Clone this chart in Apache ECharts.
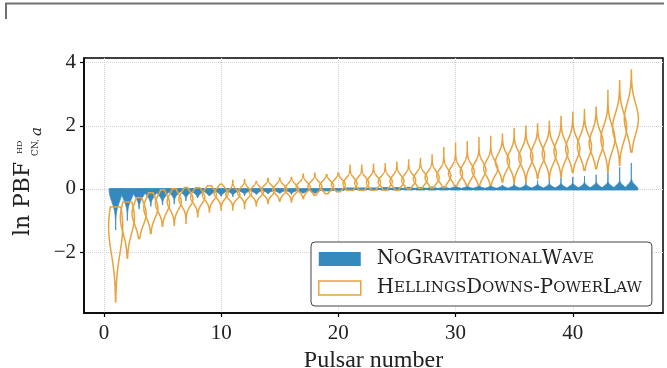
<!DOCTYPE html>
<html><head><meta charset="utf-8">
<script src="https://cdn.jsdelivr.net/npm/echarts@6/dist/echarts.min.js"></script>
<style>html,body{margin:0;padding:0;background:#fff}#c{width:667px;height:368px}</style>
</head><body><div id="c"></div>
<script>
// ---- data ----
const pulsars = [1,2,3,4,5,6,7,8,9,10,11,12,13,14,15,16,17,18,19,20,21,22,23,24,25,26,27,28,29,30,31,32,33,34,35,36,37,38,39,40,41,42,43,44,45];

// NoGravitationalWave violins: min, max, densest value, spread
const ngwLow  = [-1.30,-1.00,-0.63,-0.55,-0.51,-0.48,-0.38,-0.28,-0.20,-0.23,-0.25,-0.22,-0.17,-0.15,-0.13,-0.17,-0.13,-0.13,-0.06,-0.04,
                 -0.03,-0.03,-0.03,-0.03,-0.03,-0.03,-0.03,-0.03,-0.03,-0.03,-0.03,-0.03,-0.03,-0.03,-0.03,-0.03,-0.03,-0.03,-0.03,-0.03,-0.03,-0.03,-0.03,-0.03,-0.03];
const ngwHigh = [0.01,0.01,0.01,0.01,0.01,0.01,0.01,0.01,0.01,0.01,0.01,0.01,0.01,0.01,0.01,0.01,0.01,0.01,0.01,0.01,
                 0.03,0.03,0.03,0.04,0.04,0.05,0.05,0.06,0.07,0.08,0.08,0.10,0.11,0.12,0.17,0.22,0.27,0.31,0.35,0.38,0.41,0.45,0.52,0.69,0.82];
const ngwMode = [-0.04,-0.04,-0.04,-0.04,-0.04,-0.02,-0.02,-0.02,-0.02,-0.02,-0.02,-0.02,-0.02,-0.02,-0.02,-0.02,-0.02,-0.02,-0.02,-0.02,
                 0,0,0,0,0,0,0,0,0,0,0,0,0,0,0,0,0,0,0,0,0,0,0,0,0];
const ngwSpread = [0.35,0.28,0.20,0.17,0.15,0.13,0.11,0.10,0.09,0.08,0.07,0.06,0.06,0.05,0.05,0.05,0.05,0.05,0.04,0.04,
                 0.03,0.03,0.03,0.03,0.03,0.03,0.03,0.03,0.03,0.035,0.035,0.04,0.04,0.045,0.05,0.055,0.06,0.065,0.07,0.075,0.08,0.085,0.09,0.10,0.12];

// HellingsDowns-PowerLaw violins
const hdLow  = [-3.57,-2.19,-1.57,-1.41,-1.18,-1.15,-1.09,-0.88,-0.73,-0.67,-0.67,-0.62,-0.54,-0.46,-0.39,-0.41,-0.30,-0.20,-0.15,-0.09,
                -0.04,-0.04,-0.04,-0.04,-0.04,0.00,0.02,0.03,0.05,0.10,0.12,0.12,0.12,0.22,0.17,0.22,0.33,0.33,0.38,0.52,0.59,0.64,0.54,0.75,1.17];
const hdHigh = [-0.57,-0.41,-0.28,-0.12,-0.03,0.01,0.05,0.04,0.10,0.15,0.27,0.30,0.24,0.33,0.35,0.36,0.47,0.50,0.45,0.51,
                0.75,0.75,0.78,0.80,0.85,0.92,0.96,1.08,1.31,1.45,1.50,1.62,1.66,1.73,1.91,1.99,2.06,2.14,2.30,2.43,2.52,2.59,3.12,3.43,3.77];
const hdMode = [-1.20,-0.90,-0.78,-0.60,-0.46,-0.40,-0.32,-0.26,-0.18,-0.14,-0.18,-0.12,-0.10,-0.05,-0.02,0.00,0.06,0.08,0.10,0.14,
                0.17,0.19,0.21,0.23,0.25,0.28,0.32,0.36,0.42,0.49,0.55,0.60,0.65,0.85,0.92,1.00,1.07,1.12,1.20,1.28,1.35,1.45,1.59,1.95,2.22];
const hdSpread = [0.85,0.50,0.36,0.32,0.27,0.25,0.22,0.20,0.18,0.16,0.14,0.14,0.14,0.14,0.14,0.14,0.14,0.14,0.14,0.14,
                0.16,0.16,0.16,0.16,0.17,0.17,0.18,0.19,0.20,0.21,0.22,0.23,0.24,0.26,0.27,0.28,0.29,0.30,0.31,0.32,0.34,0.36,0.40,0.44,0.48];

const xTicks = [0,10,20,30,40];
const yTicks = [-2,0,2,4];
const seriesNames = ['NoGravitationalWave','HellingsDowns-PowerLaw'];

// ---- styling ----
const BLUE = '#348ABD', ORANGE = '#E8A33D';
const FONT = 'Liberation Serif';
const FONT2 = 'DejaVu Serif';

function makeData(lo, hi, mode, spread) {
  return pulsars.map((p, i) => [p, lo[i], hi[i], mode[i], spread[i]]);
}

function violinRenderer(halfWidth, style) {
  return function (params, api) {
    const x = api.value(0), lo = api.value(1), hi = api.value(2), mode = api.value(3), s = api.value(4);
    const n = 100, right = [], left = [];
    for (let k = 0; k <= n; k++) {
      const y = lo + (hi - lo) * k / n;
      const d = (y - mode) / s;
      const w = halfWidth * Math.exp(-0.5 * d * d);
      right.push(api.coord([x + w, y]));
      left.unshift(api.coord([x - w, y]));
    }
    return { type: 'polygon', shape: { points: right.concat(left) }, style: style };
  };
}

function smallCaps(name) {
  let out = '{sp| }';
  let i = 0;
  while (i < name.length) {
    const ch = name[i];
    if (ch >= 'a' && ch <= 'z') {
      let j = i;
      while (j < name.length && name[j] >= 'a' && name[j] <= 'z') j++;
      out += '{s|' + name.slice(i, j).toUpperCase() + '}';
      i = j;
    } else { out += '{c|' + ch + '}'; i++; }
  }
  return out;
}

const minus = v => (v < 0 ? '\u2212' + Math.abs(v) : String(v));

const chart = echarts.init(document.getElementById('c'), null, { renderer: 'canvas' });
chart.setOption({
  animation: false,
  backgroundColor: '#fff',
  grid: { left: 84, top: 58, width: 579, height: 255, outerBoundsMode: 'none', containLabel: false,
          show: true, borderColor: '#000', borderWidth: 1.5, backgroundColor: 'transparent' },
  xAxis: {
    type: 'value', min: -1.7, max: 47.7,
    name: 'Pulsar number', nameLocation: 'middle', nameGap: 28,
    nameTextStyle: { fontFamily: FONT, fontSize: 24, color: '#222' },
    axisLine: { show: true, onZero: false, lineStyle: { color: '#000', width: 1.5 } },
    axisTick: { show: true, length: 4, lineStyle: { color: '#000', width: 1.2 }, customValues: xTicks },
    axisLabel: { customValues: xTicks, fontFamily: FONT, fontSize: 21, color: '#222', margin: 10, formatter: minus },
    splitLine: { show: true, lineStyle: { color: '#d2d2d2', type: 'dotted', width: 1 } }
  },
  yAxis: {
    type: 'value', min: -3.93, max: 4.15,
    axisLine: { show: true, onZero: false, lineStyle: { color: '#000', width: 1.5 } },
    axisTick: { show: true, length: 4, lineStyle: { color: '#000', width: 1.2 }, customValues: yTicks },
    axisLabel: { customValues: yTicks, fontFamily: FONT, fontSize: 21, color: '#222', margin: 8, formatter: minus },
    splitLine: { show: true, lineStyle: { color: '#d2d2d2', type: 'dotted', width: 1 } }
  },
  legend: {
    orient: 'vertical', left: 311, top: 242,
    itemWidth: 42, itemHeight: 14, itemGap: 9,
    padding: [7, 10, 8, 7],
    backgroundColor: '#fff', borderColor: '#444', borderWidth: 1, borderRadius: 4,
    data: [
      { name: seriesNames[0], icon: 'rect', itemStyle: { color: BLUE, borderWidth: 0 } },
      { name: seriesNames[1], icon: 'rect', itemStyle: { color: '#fff', borderColor: ORANGE, borderWidth: 1.5 } }
    ],
    formatter: smallCaps,
    textStyle: {
      fontFamily: FONT2, color: '#222',
      rich: {
        sp: { width: 11, fontSize: 19, lineHeight: 18 },
        c: { fontFamily: FONT2, fontSize: 19.8, lineHeight: 18, color: '#222' },
        s: { fontFamily: FONT2, fontSize: 15, lineHeight: 18, color: '#222' }
      }
    }
  },
  graphic: [
    { type: 'polyline', shape: { points: [[6, 19], [6, 3.5], [664, 3.5]] }, style: { stroke: '#707070', lineWidth: 2, fill: null }, silent: true },
    {
      type: 'group', x: 30, y: 236, rotation: Math.PI / 2,
      children: [
        { type: 'text', x: 0, y: -7, style: { text: 'ln', font: '22px "DejaVu Serif"', fill: '#222', textVerticalAlign: 'middle' } },
        { type: 'text', x: 28, y: -7, style: { text: 'PBF', font: '22px "DejaVu Serif"', fill: '#222', textVerticalAlign: 'middle' } },
        { type: 'text', x: 82, y: -10, style: { text: 'HD', font: '8px "DejaVu Serif"', fill: '#222', textVerticalAlign: 'middle' } },
        { type: 'text', x: 80, y: 6, style: { text: 'CN,', font: '9px "DejaVu Serif"', fill: '#222', textVerticalAlign: 'middle' } },
        { type: 'text', x: 100, y: 7, style: { text: 'a', font: 'italic 15px "DejaVu Serif"', fill: '#222', textVerticalAlign: 'middle' } }
      ]
    }
  ],
  series: [
    {
      name: seriesNames[0], type: 'custom', z: 2,
      itemStyle: { color: BLUE },
      encode: { x: 0, y: [1, 2] },
      data: makeData(ngwLow, ngwHigh, ngwMode, ngwSpread),
      renderItem: violinRenderer(0.55, { fill: BLUE, stroke: BLUE, lineWidth: 1 })
    },
    {
      name: seriesNames[1], type: 'custom', z: 3,
      itemStyle: { color: ORANGE },
      encode: { x: 0, y: [1, 2] },
      data: makeData(hdLow, hdHigh, hdMode, hdSpread),
      renderItem: violinRenderer(0.6, { fill: null, stroke: ORANGE, lineWidth: 1.5 })
    }
  ]
});
</script>
</body></html>
